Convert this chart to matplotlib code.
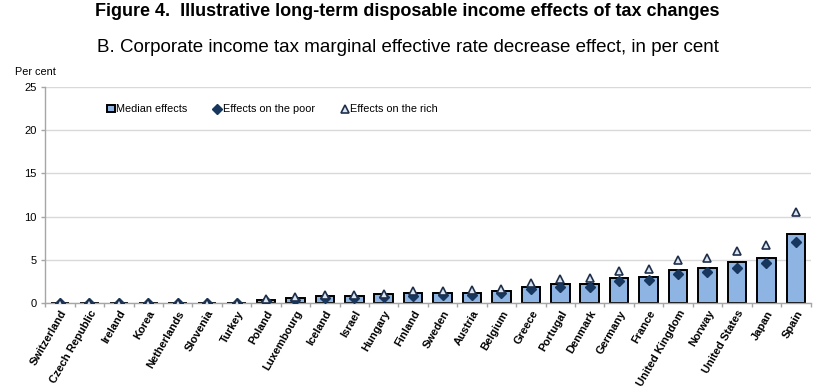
import matplotlib
matplotlib.use("Agg")
import matplotlib.pyplot as plt
import numpy as np

countries = ["Switzerland", "Czech Republic", "Ireland", "Korea", "Netherlands", "Slovenia",
             "Turkey", "Poland", "Luxembourg", "Iceland", "Israel", "Hungary", "Finland",
             "Sweden", "Austria", "Belgium", "Greece", "Portugal", "Denmark", "Germany",
             "France", "United Kingdom", "Norway", "United States", "Japan", "Spain"]
median = [0, 0, 0, 0, 0, 0, 0, 0.4, 0.6, 0.8, 0.85, 1.0, 1.1,
          1.15, 1.2, 1.35, 1.9, 2.2, 2.25, 2.9, 3.05, 3.8, 4.0, 4.7, 5.2, 8.0]
poor = [0, 0, 0, 0, 0, 0, 0, 0.25, 0.35, 0.55, 0.6, 0.7, 0.85,
        0.9, 0.9, 1.2, 1.6, 1.9, 1.9, 2.5, 2.65, 3.4, 3.55, 4.1, 4.6, 7.1]
rich = [0, 0, 0, 0, 0, 0, 0, 0.45, 0.65, 0.9, 0.9, 1.0, 1.35,
        1.4, 1.45, 1.65, 2.35, 2.8, 2.85, 3.7, 3.9, 5.0, 5.25, 6.05, 6.75, 10.5]
yticks = [0, 5, 10, 15, 20, 25]

plt.rcParams['font.family'] = ['Liberation Sans', 'DejaVu Sans']

fig = plt.figure(figsize=(8.15, 3.91), dpi=100)
ax = fig.add_axes([45.3/815, 1-303/391, (810.5-45.3)/815, (303-87)/391])

x = np.arange(len(countries))
b = ax.bar(x, median, width=0.63, color="#8db4e2", edgecolor="black", linewidth=1.4,
           zorder=2, label="Median effects")
p, = ax.plot(x, poor, linestyle="none", marker="D", markersize=5.5, color="#17375e",
             zorder=3, label="Effects on the poor")
r, = ax.plot(x, rich, linestyle="none", marker="^", markersize=6, markerfacecolor="#dce6f2",
             markeredgecolor="#1f2f4a", markeredgewidth=1.2, zorder=4, label="Effects on the rich")

ax.set_xlim(-0.5, len(countries) - 0.5)
ax.set_ylim(0, 25)
ax.set_yticks(yticks)
ax.set_yticklabels([str(v) for v in yticks], fontsize=8)
ax.yaxis.grid(True, color="#d9d9d9", linewidth=1, zorder=0)
ax.set_axisbelow(True)

ax.set_xticks(x)
ax.set_xticklabels(countries, rotation=60, ha="right", rotation_mode="anchor",
                   fontsize=8, fontweight="bold")
ax.tick_params(axis="x", which="major", length=0, pad=4)
ax.set_xticks(np.arange(-0.5, len(countries), 1), minor=True)
ax.tick_params(axis="x", which="minor", length=3, color="#a6a6a6", width=1)
ax.tick_params(axis="y", length=3, color="#a6a6a6", width=1, pad=3)

for s in ["top", "right"]:
    ax.spines[s].set_visible(False)
for s in ["left", "bottom"]:
    ax.spines[s].set_color("#a6a6a6")
    ax.spines[s].set_linewidth(1)

leg = ax.legend([b, p, r], ["Median effects", "Effects on the poor", "Effects on the rich"],
                loc="upper left", bbox_to_anchor=(0.068, 0.965), ncol=3, frameon=False,
                fontsize=7.8, handlelength=0.7, handletextpad=0.15, columnspacing=2.4,
                markerscale=0.85)

fig.text(0.5, 1-12/391, "Figure 4.  Illustrative long-term disposable income effects of tax changes",
         ha="center", va="center", fontsize=13, fontweight="bold")
fig.text(0.5, 1-47/391, "B. Corporate income tax marginal effective rate decrease effect, in per cent",
         ha="center", va="center", fontsize=13.5)
fig.text(15/815, 1-72/391, "Per cent", ha="left", va="center", fontsize=7.8)

fig.savefig("out.png", dpi=100)
